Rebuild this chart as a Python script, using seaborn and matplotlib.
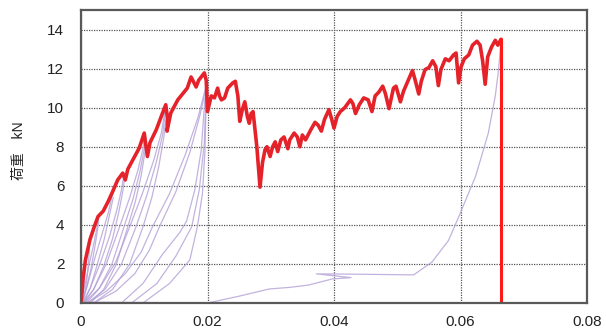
import matplotlib
matplotlib.use("Agg")
import matplotlib.pyplot as plt
import seaborn as sns
import pandas as pd

# Envelope (skeleton) curve, displacement and load (kN)
env_x = [0.0, 0.00005, 0.0003, 0.0007, 0.0014, 0.0022, 0.0027, 0.0035, 0.0043, 0.0050,
         0.0058, 0.0066, 0.0070, 0.0074, 0.0082, 0.0092, 0.0100, 0.0102, 0.0105, 0.0109,
         0.0119, 0.0129, 0.0134, 0.0137, 0.0136, 0.0142, 0.0153, 0.0163, 0.0168, 0.0174,
         0.0182, 0.0186, 0.0195, 0.0198, 0.0200, 0.0206, 0.0211, 0.0216, 0.0219, 0.0222,
         0.0227, 0.0232, 0.0240, 0.0244, 0.0248, 0.0251, 0.0255, 0.0259, 0.0263, 0.0266,
         0.0269, 0.0272, 0.0278, 0.0283, 0.0287, 0.0291, 0.0294, 0.0299, 0.0303, 0.0307,
         0.0311, 0.0316, 0.0321, 0.0327, 0.0330, 0.0337, 0.0342, 0.0346, 0.0350, 0.0355,
         0.0363, 0.0370, 0.0375, 0.0380, 0.0385, 0.0392, 0.0396, 0.0400, 0.0405, 0.0410,
         0.0417, 0.0426, 0.0430, 0.0434, 0.0440, 0.0447, 0.0454, 0.0460, 0.0465, 0.0471,
         0.0477, 0.0481, 0.0487, 0.0494, 0.0498, 0.0505, 0.0510, 0.0518, 0.0524, 0.0528,
         0.0534, 0.0538, 0.0544, 0.0550, 0.0556, 0.0561, 0.0565, 0.0569, 0.0576, 0.0582,
         0.0589, 0.0593, 0.0597, 0.0601, 0.0606, 0.0613, 0.0619, 0.0626, 0.0631, 0.0635,
         0.0639, 0.0643, 0.0649, 0.0655, 0.0659, 0.0664]
env_y = [0.0, 0.15, 1.18, 2.2, 3.23, 4.0, 4.43, 4.7, 5.2, 5.7,
         6.3, 6.65, 6.3, 6.85, 7.33, 7.93, 8.7, 8.2, 7.5, 8.2,
         8.87, 9.73, 10.15, 9.4, 8.8, 9.73, 10.4, 10.8, 11.0, 11.57,
         11.06, 11.4, 11.78, 11.4, 9.8, 10.6, 10.5, 11.0, 10.6, 10.4,
         10.5, 11.0, 11.27, 11.35, 10.6, 9.3, 9.9, 10.3, 9.55, 9.2,
         9.7, 9.8, 8.0, 5.93, 7.2, 7.85, 8.0, 7.5, 8.0, 8.25,
         7.75, 8.35, 8.5, 7.9, 8.35, 8.7, 8.5, 8.0, 8.6, 8.35,
         8.85, 9.25, 9.1, 8.8, 9.4, 9.9, 9.45, 8.95, 9.55, 9.8,
         10.0, 10.4, 10.2, 9.7, 10.15, 10.5, 10.4, 9.8, 10.6, 10.8,
         11.1, 10.75, 9.95, 11.0, 11.1, 10.3, 10.85, 11.45, 11.9, 11.45,
         10.7, 11.35, 11.95, 12.05, 12.4, 12.1, 11.13, 11.95, 12.5, 12.4,
         12.7, 12.8, 11.27, 12.1, 12.5, 12.7, 13.2, 13.4, 13.2, 12.4,
         11.2, 12.6, 13.1, 13.45, 13.2, 13.5]

# Final failure drop
drop_x = [0.0664, 0.0664]
drop_y = [13.5, 0.0]

# Hysteresis loops (displacement, load)
loop_x = [
    [0.0000, 0.0002, 0.0004, 0.0006, 0.0007],
    [0.0001, 0.0005, 0.0009, 0.0012, 0.0014],
    [0.0000, 0.0006, 0.0013, 0.0020, 0.0025, 0.0027],
    [0.0002, 0.0009, 0.0016, 0.0022, 0.0026, 0.0028],
    [0.0001, 0.0010, 0.0021, 0.0033, 0.0043, 0.0050],
    [0.0004, 0.0015, 0.0026, 0.0037, 0.0045, 0.0051],
    [0.0002, 0.0015, 0.0030, 0.0045, 0.0057, 0.0064, 0.0068],
    [0.0005, 0.0020, 0.0036, 0.0050, 0.0060, 0.0066, 0.0069],
    [0.0003, 0.0020, 0.0040, 0.0061, 0.0077, 0.0090, 0.0098, 0.0101],
    [0.0008, 0.0028, 0.0049, 0.0068, 0.0082, 0.0093, 0.0099, 0.0102],
    [0.0015, 0.0036, 0.0056, 0.0074, 0.0086, 0.0095, 0.0100, 0.0103],
    [0.0005, 0.0030, 0.0055, 0.0077, 0.0097, 0.0115, 0.0127, 0.0133],
    [0.0010, 0.0038, 0.0064, 0.0087, 0.0104, 0.0119, 0.0129, 0.0133],
    [0.0020, 0.0050, 0.0077, 0.0098, 0.0112, 0.0123, 0.0131, 0.0134],
    [0.0010, 0.0040, 0.0070, 0.0095, 0.0113, 0.0140, 0.0165, 0.0185, 0.0197],
    [0.0020, 0.0055, 0.0085, 0.0108, 0.0124, 0.0150, 0.0172, 0.0188, 0.0197],
    [0.0064, 0.0098, 0.0129, 0.0156, 0.0167, 0.0180, 0.0190, 0.0196],
    [0.0098, 0.0140, 0.0172, 0.0184, 0.0192, 0.0196, 0.0198],
    [0.0080, 0.0120, 0.0150, 0.0175, 0.0187, 0.0195, 0.0198],
    [0.0000, 0.0080, 0.0200],
    [0.0200, 0.0250, 0.0298, 0.0330, 0.0360, 0.0397, 0.0427, 0.0372, 0.0420, 0.0526,
     0.0555, 0.0581, 0.0597, 0.0624, 0.0644, 0.0655, 0.0660, 0.0664],
]
loop_y = [
    [0.0, 0.3, 0.8, 1.5, 2.2],
    [0.0, 0.4, 1.1, 2.1, 3.2],
    [0.0, 0.9, 2.0, 3.0, 3.8, 4.4],
    [0.0, 0.8, 1.8, 2.9, 3.7, 4.2],
    [0.0, 0.9, 2.2, 3.5, 4.6, 5.6],
    [0.0, 0.8, 2.0, 3.3, 4.5, 5.4],
    [0.0, 0.8, 2.0, 3.4, 4.8, 5.8, 6.6],
    [0.0, 0.7, 1.9, 3.3, 4.7, 5.7, 6.4],
    [0.0, 0.7, 2.0, 3.9, 5.4, 6.8, 7.9, 8.6],
    [0.0, 0.7, 2.0, 3.9, 5.3, 6.7, 7.7, 8.3],
    [0.0, 0.7, 2.0, 3.9, 5.2, 6.5, 7.5, 8.1],
    [0.0, 0.8, 2.1, 3.9, 5.6, 7.3, 8.7, 9.9],
    [0.0, 0.7, 2.0, 3.9, 5.5, 7.2, 8.6, 9.7],
    [0.0, 0.7, 2.0, 3.9, 5.4, 7.0, 8.5, 9.4],
    [0.0, 0.6, 1.5, 2.6, 3.9, 5.6, 7.6, 9.5, 11.0],
    [0.0, 0.6, 1.5, 2.7, 3.9, 5.7, 7.7, 9.6, 10.9],
    [0.0, 1.0, 2.5, 3.6, 4.2, 5.8, 7.8, 10.5],
    [0.0, 1.0, 2.2, 3.9, 5.6, 7.8, 10.5],
    [0.0, 1.0, 2.4, 3.9, 5.8, 8.2, 11.2],
    [0.05, 0.03, 0.0],
    [0.0, 0.35, 0.72, 0.8, 0.92, 1.23, 1.3, 1.49, 1.48, 1.44,
     2.1, 3.2, 4.4, 6.5, 8.7, 10.6, 11.9, 13.4],
]

x_ticks = [0, 0.02, 0.04, 0.06, 0.08]
x_labels = ["0", "0.02", "0.04", "0.06", "0.08"]
y_ticks = [0, 2, 4, 6, 8, 10, 12, 14]
y_label = "荷重　kN"

sns.set_style("white")
plt.rcParams["font.family"] = ["Liberation Sans", "Noto Sans CJK JP", "DejaVu Sans"]

fig = plt.figure(figsize=(6.06, 3.31), dpi=100)
ax = fig.add_axes([81 / 606, 1 - 303 / 331, (587 - 81) / 606, (303 - 10) / 331])

purple = "#b3a0d6"
for i, (lx, ly) in enumerate(zip(loop_x, loop_y)):
    df = pd.DataFrame({"x": lx, "y": ly})
    sns.lineplot(data=df, x="x", y="y", sort=False, estimator=None, ax=ax,
                 color=purple, lw=0.9, alpha=0.8)

red = "#e5222a"
df_env = pd.DataFrame({"x": env_x, "y": env_y})
sns.lineplot(data=df_env, x="x", y="y", sort=False, estimator=None, ax=ax,
             color=red, lw=2.6)
df_drop = pd.DataFrame({"x": drop_x, "y": drop_y})
sns.lineplot(data=df_drop, x="x", y="y", sort=False, estimator=None, ax=ax,
             color="#ff1a1a", lw=2.2)

ax.set_xlim(0, 0.08)
ax.set_ylim(0, 15)
ax.set_xticks(x_ticks)
ax.set_xticklabels(x_labels)
ax.set_yticks(y_ticks)
ax.grid(True, color="#555555", linestyle=(0, (1, 1)), lw=0.9)
ax.set_axisbelow(True)
for s in ax.spines.values():
    s.set_color("#595959")
    s.set_linewidth(1.6)
ax.tick_params(axis="both", length=0, labelsize=11, colors="#222222")
ax.tick_params(axis="x", pad=9)
ax.tick_params(axis="y", pad=12)
ax.set_xlabel("")
ax.set_ylabel(y_label, fontsize=10, labelpad=18, color="#222222")
ax.yaxis.set_label_coords(-0.108, 0.52)

fig.savefig("out.png", dpi=100)
